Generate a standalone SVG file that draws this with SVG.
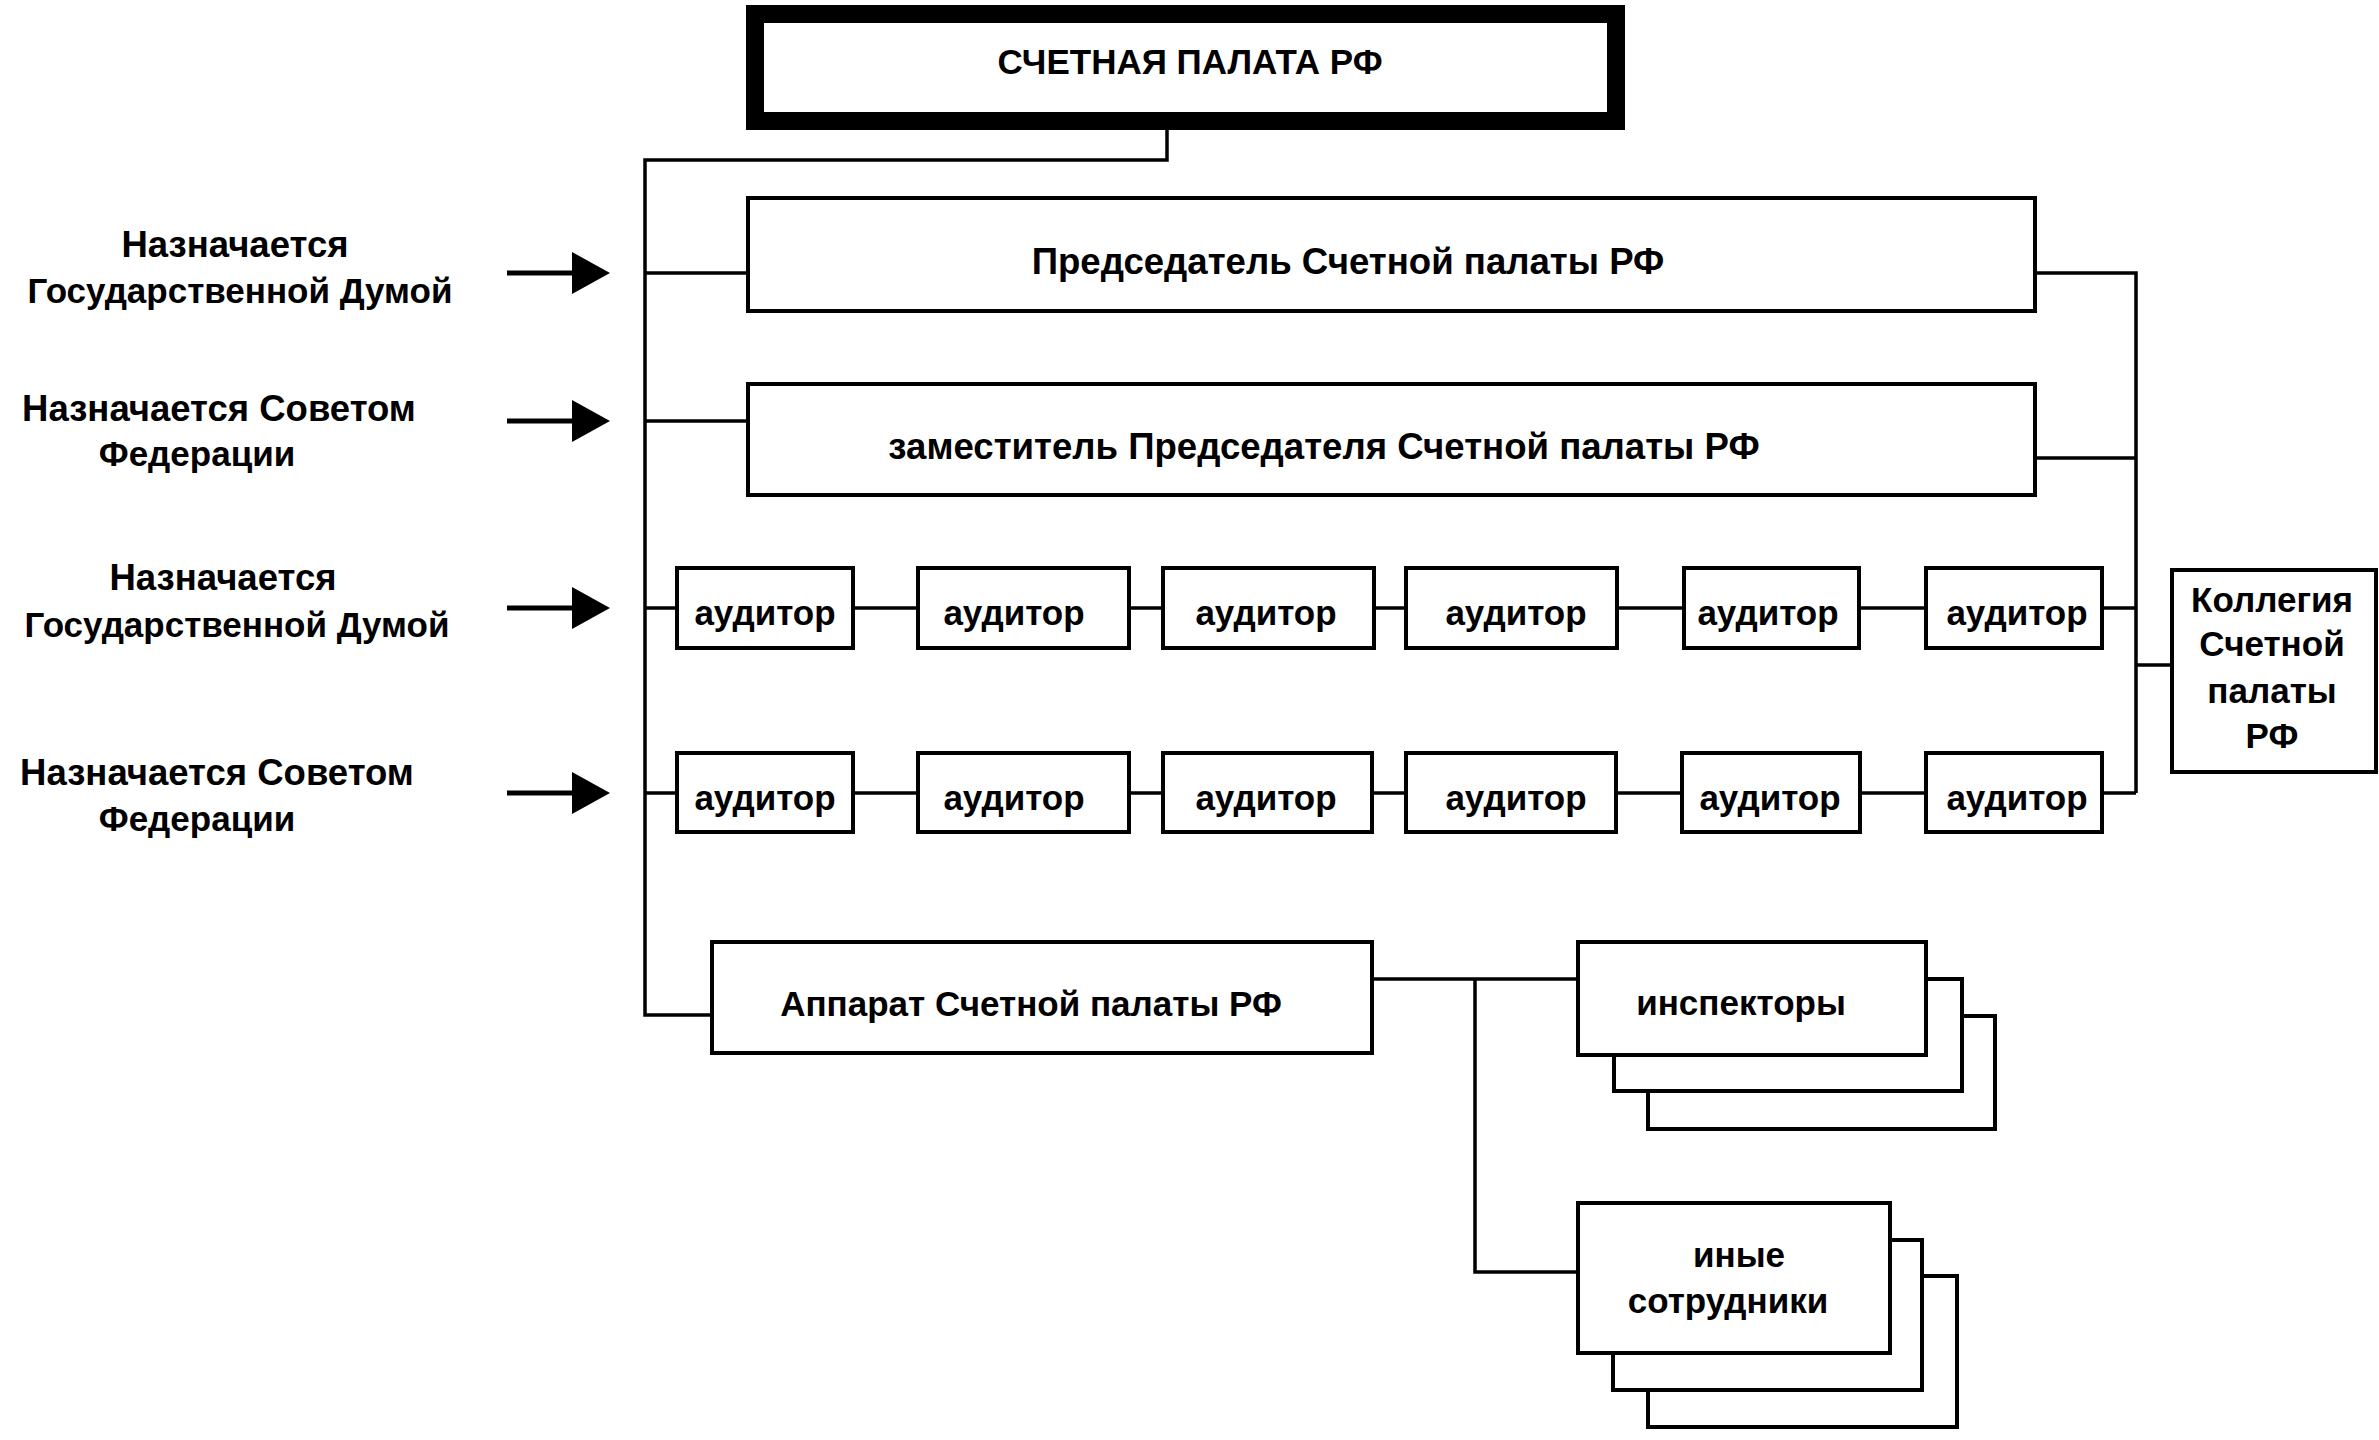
<svg xmlns="http://www.w3.org/2000/svg" width="2379" height="1440" viewBox="0 0 2379 1440">
<style>
  .box { fill: #fff; stroke: #000; stroke-width: 4; }
  .ln { fill: none; stroke: #000; stroke-width: 3.5; }
  .t { font-family: "Liberation Sans", Arial, sans-serif; font-weight: bold; font-size: 35px; fill: #000; text-anchor: middle; }
  .lbl { font-size: 36.5px; }
  .big { font-size: 36.6px; }
</style>
<defs>
  <marker id="arr" markerUnits="userSpaceOnUse" markerWidth="40" markerHeight="42" refX="0" refY="21" orient="auto">
    <path d="M0,0 L38,21 L0,42 Z" fill="#000"/>
  </marker>
</defs>
<rect width="2379" height="1440" fill="#fff"/>

<g id="connectors">
  <path class="ln" d="M1167,130 V160 H645 V1015 H712"/>
  <path class="ln" d="M645,273 H748"/>
  <path class="ln" d="M645,421 H748"/>
  <path class="ln" d="M645,608 H2136"/>
  <path class="ln" d="M645,793 H2136"/>
  <path class="ln" d="M2035,273 H2136 V793"/>
  <path class="ln" d="M2035,458 H2136"/>
  <path class="ln" d="M2136,665 H2172"/>
  <path class="ln" d="M1372,979 H1578"/>
  <path class="ln" d="M1475,979 V1272 H1578"/>
  <path d="M507,273 H572" stroke="#000" stroke-width="5" marker-end="url(#arr)"/>
  <path d="M507,421 H572" stroke="#000" stroke-width="5" marker-end="url(#arr)"/>
  <path d="M507,608 H572" stroke="#000" stroke-width="5" marker-end="url(#arr)"/>
  <path d="M507,793 H572" stroke="#000" stroke-width="5" marker-end="url(#arr)"/>
</g>

<g id="labels">
  <text class="t lbl" x="235" y="257">Назначается</text>
  <text class="t" x="240" y="303" font-size="35.6">Государственной Думой</text>
  <text class="t lbl" x="219" y="421">Назначается Советом</text>
  <text class="t" x="197" y="466" font-size="35.6">Федерации</text>
  <text class="t lbl" x="223" y="590">Назначается</text>
  <text class="t" x="237" y="637" font-size="35.6">Государственной Думой</text>
  <text class="t lbl" x="217" y="785">Назначается Советом</text>
  <text class="t" x="197" y="831" font-size="35.6">Федерации</text>
</g>

<g id="n-top">
  <rect x="755" y="14" width="861" height="107" fill="#fff" stroke="#000" stroke-width="18"/>
  <text class="t" x="1190" y="74" font-size="34">СЧЕТНАЯ ПАЛАТА РФ</text>
</g>

<g id="n-chair">
  <rect class="box" x="748" y="198" width="1287" height="113"/>
  <text class="t big" x="1348" y="274">Председатель Счетной палаты РФ</text>
</g>

<g id="n-deputy">
  <rect class="box" x="748" y="384" width="1287" height="111"/>
  <text class="t big" x="1324" y="459">заместитель Председателя Счетной палаты РФ</text>
</g>

<g id="n-aud-r1">
  <rect class="box" x="677" y="568" width="176" height="80"/><text class="t" x="765" y="625">аудитор</text>
  <rect class="box" x="918" y="568" width="211" height="80"/><text class="t" x="1014" y="625">аудитор</text>
  <rect class="box" x="1163" y="568" width="211" height="80"/><text class="t" x="1266" y="625">аудитор</text>
  <rect class="box" x="1406" y="568" width="211" height="80"/><text class="t" x="1516" y="625">аудитор</text>
  <rect class="box" x="1684" y="568" width="175" height="80"/><text class="t" x="1768" y="625">аудитор</text>
  <rect class="box" x="1926" y="568" width="176" height="80"/><text class="t" x="2017" y="625">аудитор</text>
</g>

<g id="n-aud-r2">
  <rect class="box" x="677" y="753" width="176" height="79"/><text class="t" x="765" y="810">аудитор</text>
  <rect class="box" x="918" y="753" width="211" height="79"/><text class="t" x="1014" y="810">аудитор</text>
  <rect class="box" x="1163" y="753" width="209" height="79"/><text class="t" x="1266" y="810">аудитор</text>
  <rect class="box" x="1406" y="753" width="210" height="79"/><text class="t" x="1516" y="810">аудитор</text>
  <rect class="box" x="1682" y="753" width="178" height="79"/><text class="t" x="1770" y="810">аудитор</text>
  <rect class="box" x="1926" y="753" width="176" height="79"/><text class="t" x="2017" y="810">аудитор</text>
</g>

<g id="n-collegium">
  <rect class="box" x="2172" y="570" width="204" height="202"/>
  <text class="t" x="2272" y="612" font-size="36">Коллегия</text>
  <text class="t" x="2272" y="656" font-size="36">Счетной</text>
  <text class="t" x="2272" y="703" font-size="36">палаты</text>
  <text class="t" x="2272" y="748" font-size="36">РФ</text>
</g>

<g id="n-apparat">
  <rect class="box" x="712" y="942" width="660" height="111"/>
  <text class="t" x="1031" y="1016" font-size="36.4">Аппарат Счетной палаты РФ</text>
</g>

<g id="n-inspectors">
  <rect class="box" x="1648" y="1016" width="347" height="113"/>
  <rect class="box" x="1614" y="979" width="348" height="112"/>
  <rect class="box" x="1578" y="942" width="348" height="113"/>
  <text class="t" x="1741" y="1015">инспекторы</text>
</g>

<g id="n-others">
  <rect class="box" x="1648" y="1276" width="309" height="151"/>
  <rect class="box" x="1613" y="1240" width="309" height="150"/>
  <rect class="box" x="1578" y="1203" width="312" height="150"/>
  <text class="t" x="1739" y="1267">иные</text>
  <text class="t" x="1728" y="1313">сотрудники</text>
</g>
</svg>
